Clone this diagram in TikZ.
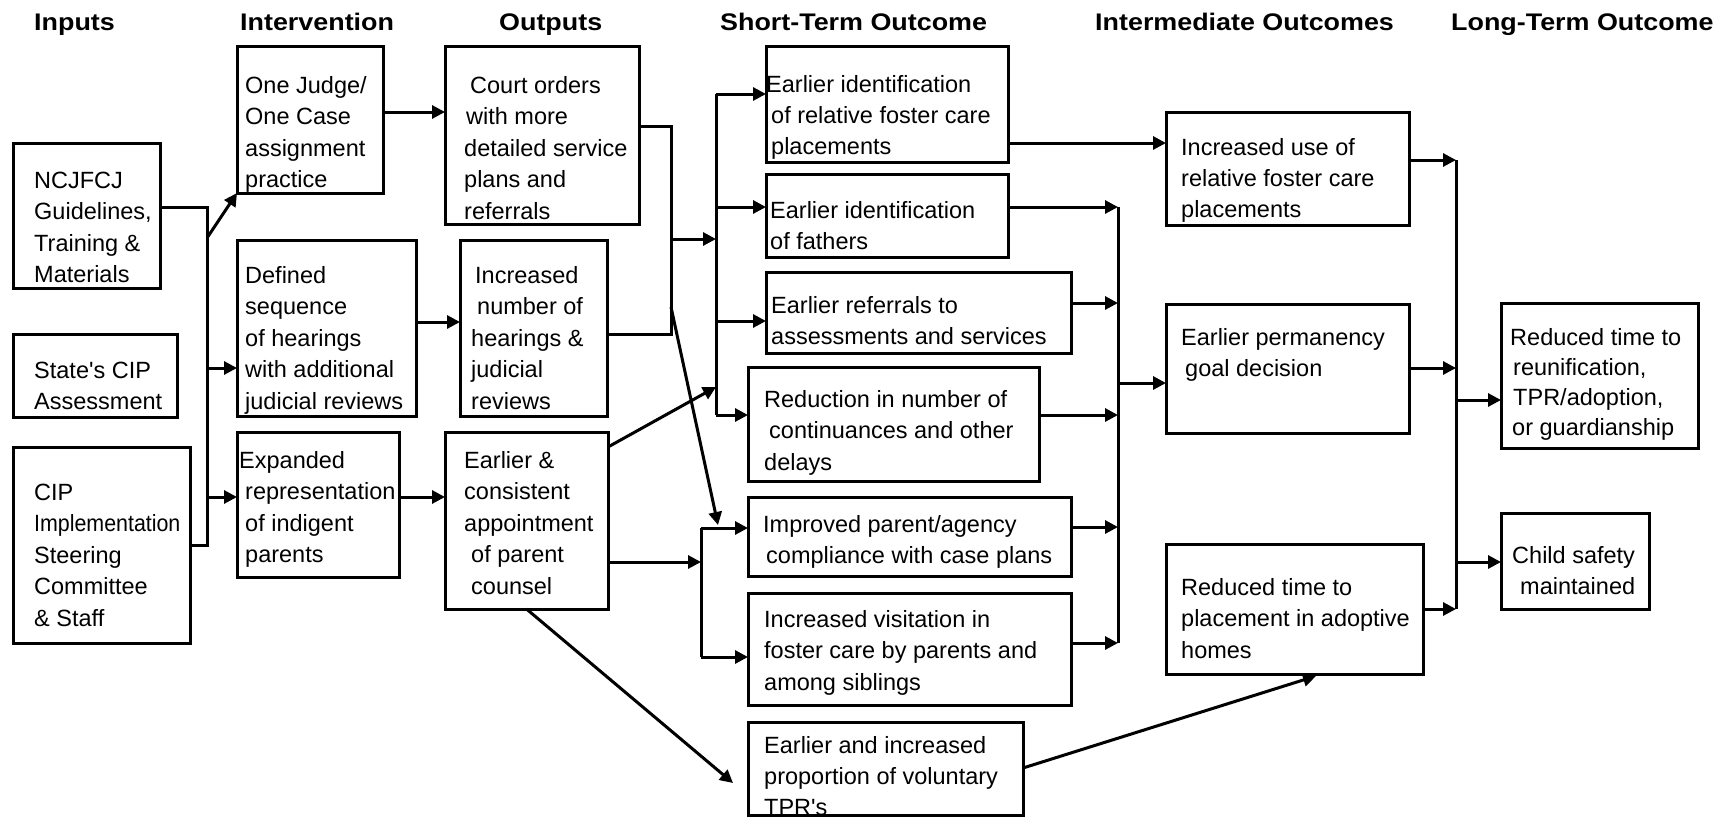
\documentclass[tikz,border=0pt]{standalone}
\usepackage{graphicx}
\usepackage{fontspec}
\setmainfont{Liberation Sans}[Ligatures=TeXOff]
\newfontfamily\headfont{Liberation Sans}[FakeStretch=1.12]
\usetikzlibrary{arrows.meta}

% left-aligned block of lines whose reference point is the first baseline
\newcommand\stack[2][31.5pt]{\vtop{\baselineskip=#1\lineskiplimit=-100pt\halign{##\hfil\cr#2\crcr}}}
% framed box given by its corners (x1,y1) and (x2,y2)
\newcommand\flowbox[5]{\node[box, minimum width={#4-#2}, minimum height={#5-#3}] (#1) at ({(#2+#4)/2},{(#3+#5)/2}) {};}

\begin{document}
\begin{tikzpicture}[x=1pt, y=-1pt,
  box/.style={draw, rectangle, line width=3pt, inner sep=0pt, outer sep=0pt},
  txt/.style={anchor=base west, inner sep=0pt, font=\fontsize{23.5}{31.5}\selectfont},
  head/.style={anchor=base west, inner sep=0pt, font=\headfont\bfseries\fontsize{24}{28}\selectfont},
  wire/.style={line width=3pt},
  arr/.style={line width=3pt, -{Triangle[length=13pt,width=13pt]}}]

\fill[white] (0,0) rectangle (1729,817);
\useasboundingbox (0,0) rectangle (1729,817);

% column headings
\node[head] (hIn)   at (34,30)   {Inputs};
\node[head] (hInt)  at (240,30)  {Intervention};
\node[head] (hOut)  at (499,30)  {Outputs};
\node[head] (hST)   at (720,30)  {Short-Term Outcome};
\node[head] (hMid)  at (1095,30) {Intermediate Outcomes};
\node[head] (hLT)   at (1451,30) {Long-Term Outcome};

% inputs
\flowbox{ncj}{13}{143}{160}{288}
\flowbox{state}{13}{334}{177}{417}
\flowbox{cip}{13}{447}{190}{643}
\node[txt] (ncjT) at (34,188) {\stack{NCJFCJ\cr Guidelines,\cr Training \&\cr Materials}};
\node[txt] (stateT) at (34,378) {\stack{State's CIP\cr Assessment}};
\node[txt] (cipT) at (34,500) {\stack{CIP\cr \scalebox{0.91}[1]{Implementation}\cr Steering\cr Committee\cr \& Staff}};

% intervention
\flowbox{judge}{237}{46}{383}{193}
\flowbox{seq}{237}{240}{416}{416}
\flowbox{rep}{237}{432}{399}{577}
\node[txt] (judgeT) at (245,93) {\stack{One Judge/\cr One Case\cr assignment\cr practice}};
\node[txt] (seqT) at (245,283) {\stack{Defined\cr sequence\cr of hearings\cr with additional\cr judicial reviews}};
\node[txt] (repT) at (245,468) {\stack{\kern-6pt Expanded\cr representation\cr of indigent\cr parents}};

% outputs
\flowbox{orders}{445}{46}{639}{224}
\flowbox{hear}{460}{240}{607}{416}
\flowbox{counsel}{445}{432}{608}{609}
\node[txt] (ordersT) at (464,93) {\stack{\kern6pt Court orders\cr \kern2pt with more\cr detailed service\cr plans and\cr referrals}};
\node[txt] (hearT) at (471,283) {\stack{\kern4pt Increased\cr \kern6pt number of\cr hearings \&\cr judicial\cr reviews}};
\node[txt] (counselT) at (464,468) {\stack{Earlier \&\cr consistent\cr appointment\cr \kern7pt of parent\cr \kern7pt counsel}};

% short-term outcomes
\flowbox{relid}{766}{46}{1008}{162}
\flowbox{fathid}{766}{174}{1008}{257}
\flowbox{refer}{766}{272}{1071}{353}
\flowbox{cont}{748}{367}{1039}{481}
\flowbox{comply}{748}{497}{1071}{576}
\flowbox{visit}{748}{593}{1071}{705}
\flowbox{tpr}{748}{722}{1023}{815}
\node[txt] (relidT) at (771,92) {\stack[31pt]{\kern-5pt Earlier identification\cr of relative foster care\cr placements}};
\node[txt] (fathidT) at (770,218) {\stack{Earlier identification\cr of fathers}};
\node[txt] (referT) at (771,313) {\stack{Earlier referrals to\cr assessments and services}};
\node[txt] (contT) at (764,407) {\stack{Reduction in number of\cr \kern5pt continuances and other\cr delays}};
\node[txt] (complyT) at (763,532) {\stack{Improved parent/agency\cr \kern3pt compliance with case plans}};
\node[txt] (visitT) at (764,627) {\stack{Increased visitation in\cr foster care by parents and\cr among siblings}};
\node[txt] (tprT) at (764,753) {\stack[31pt]{Earlier and increased\cr proportion of voluntary\cr TPR's}};

% intermediate outcomes
\flowbox{reluse}{1166}{112}{1409}{225}
\flowbox{perm}{1166}{304}{1409}{433}
\flowbox{adopt}{1166}{544}{1423}{674}
\node[txt] (reluseT) at (1181,155) {\stack[31pt]{Increased use of\cr relative foster care\cr placements}};
\node[txt] (permT) at (1181,345) {\stack{Earlier permanency\cr \kern4pt goal decision}};
\node[txt] (adoptT) at (1181,595) {\stack{Reduced time to\cr placement in adoptive\cr homes}};

% long-term outcomes
\flowbox{reunif}{1501}{303}{1698}{448}
\flowbox{safety}{1501}{513}{1649}{609}
\node[txt] (reunifT) at (1510,345) {\stack[30pt]{Reduced time to\cr \kern3pt reunification,\cr \kern3pt TPR/adoption,\cr \kern2pt or guardianship}};
\node[txt] (safetyT) at (1512,563) {\stack{Child safety\cr \kern8pt maintained}};

% horizontal levels used by the connectors
\coordinate (L112) at (0,112);
\coordinate (L322) at (0,322);
\coordinate (L497) at (0,497);
\coordinate (L447) at (0,447);
\coordinate (L143) at (0,143);
\coordinate (L303) at (0,303);
\coordinate (L415) at (0,415);
\coordinate (L527) at (0,527);
\coordinate (L643) at (0,643);
\coordinate (L768) at (0,768);
\coordinate (L368) at (0,368);

% inputs bus
\coordinate (inTop) at (207,207);
\coordinate (inBot) at (207,545);
\coordinate (inJ) at (207,238);
\coordinate (inS) at (207,368);
\coordinate (inR) at (207,497);
\draw[wire] (ncj.east |- inTop) -- (inTop) -- (inBot) -- (cip.east |- inBot);
\draw[arr] (inJ) -- (judge.south west);
\draw[arr] (inS) -- (inS -| seq.west);
\draw[arr] (inR) -- (inR -| rep.west);

% intervention to outputs
\draw[arr] (judge.east |- L112) -- (orders.west |- L112);
\draw[arr] (seq.east |- L322) -- (hear.west |- L322);
\draw[arr] (rep.east |- L497) -- (counsel.west |- L497);

% outputs bus
\coordinate (bB1) at (671,126);
\coordinate (bB2) at (671,334);
\coordinate (bBm) at (671,239);
\coordinate (bBd) at (671,307);
\draw[wire] (orders.east |- bB1) -- (bB1) -- (bB2) -- (hear.east |- bB2);

% short-term bus (upper)
\coordinate (bC1) at (716,94);
\coordinate (bC2) at (716,207);
\coordinate (bC3) at (716,321);
\coordinate (bC4) at (716,415);
\coordinate (bCm) at (716,239);
\coordinate (bCx) at (716,387);
\draw[arr] (bBm) -- (bCm);
\draw[wire] (bC1) -- (bC4);
\draw[arr] (bC1) -- (bC1 -| relid.west);
\draw[arr] (bC2) -- (bC2 -| fathid.west);
\draw[arr] (bC3) -- (bC3 -| refer.west);
\draw[arr] (bC4) -- (bC4 -| cont.west);
\draw[arr] (counsel.east |- L447) -- (bCx);

% short-term bus (lower)
\coordinate (bD1) at (701,528);
\coordinate (bD2) at (701,657);
\coordinate (bDm) at (701,562);
\coordinate (dTip) at (718,525);
\draw[arr] (counsel.east |- bDm) -- (bDm);
\draw[wire] (bD1) -- (bD2);
\draw[arr] (bD1) -- (bD1 -| comply.west);
\draw[arr] (bD2) -- (bD2 -| visit.west);
\draw[arr] (bBd) -- (dTip);
\coordinate (tTip) at (733,783);
\draw[arr] (counsel.south) -- (tTip);

% short-term to intermediate
\draw[arr] (relid.east |- L143) -- (reluse.west |- L143);
\coordinate (bE1) at (1118,207);
\coordinate (bE2) at (1118,643);
\coordinate (bEm) at (1118,383);
\draw[wire] (bE1) -- (bE2);
\draw[arr] (fathid.east |- bE1) -- (bE1);
\draw[arr] (refer.east |- L303) -- (L303 -| bE1);
\draw[arr] (cont.east |- L415) -- (L415 -| bE1);
\draw[arr] (comply.east |- L527) -- (L527 -| bE1);
\draw[arr] (visit.east |- L643) -- (L643 -| bE1);
\draw[arr] (bEm) -- (bEm -| perm.west);
\coordinate (aTip) at (1316,676);
\draw[arr] (tpr.east |- L768) -- (aTip);

% intermediate to long-term
\coordinate (bF1) at (1456,160);
\coordinate (bF2) at (1456,609);
\coordinate (bFr) at (1456,400);
\coordinate (bFs) at (1456,562);
\draw[wire] (bF1) -- (bF2);
\draw[arr] (reluse.east |- bF1) -- (bF1);
\draw[arr] (perm.east |- L368) -- (L368 -| bF1);
\draw[arr] (adopt.east |- bF2) -- (bF2);
\draw[arr] (bFr) -- (bFr -| reunif.west);
\draw[arr] (bFs) -- (bFs -| safety.west);
\end{tikzpicture}
\end{document}
